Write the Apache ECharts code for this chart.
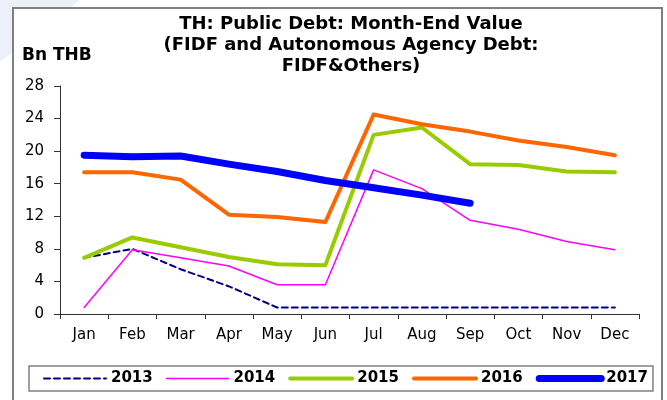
<!DOCTYPE html>
<html>
<head>
<meta charset="utf-8">
<script src="https://cdn.jsdelivr.net/npm/echarts@6/dist/echarts.min.js"></script>
<style>
  html, body { margin: 0; padding: 0; background: #fff; }
  #chart { width: 667px; height: 400px; }
</style>
</head>
<body>
<div id="chart"></div>
<script>
const months = ['Jan', 'Feb', 'Mar', 'Apr', 'May', 'Jun', 'Jul', 'Aug', 'Sep', 'Oct', 'Nov', 'Dec'];
const yTicks = [0, 4, 8, 12, 16, 20, 24, 28];

// Bn THB
const debt2013 = [6.9, 8.0, 5.5, 3.4, 0.8, 0.8, 0.8, 0.8, 0.8, 0.8, 0.8, 0.8];
const debt2014 = [0.8, 7.9, 6.9, 5.9, 3.6, 3.6, 17.7, 15.4, 11.5, 10.4, 8.9, 7.9];
const debt2015 = [6.9, 9.4, 8.2, 7.0, 6.1, 6.0, 22.0, 22.9, 18.4, 18.3, 17.5, 17.4];
const debt2016 = [17.4, 17.4, 16.5, 12.2, 11.9, 11.3, 24.5, 23.3, 22.4, 21.3, 20.5, 19.5];
const debt2017 = [19.5, 19.3, 19.4, 18.4, 17.5, 16.4, 15.5, 14.6, 13.6];

const FONT = 'DejaVu Sans';

const styles = [
  { name: '2013', data: debt2013, color: '#000080', width: 2, dash: [6, 4] },
  { name: '2014', data: debt2014, color: '#ff00ff', width: 1.5 },
  { name: '2015', data: debt2015, color: '#99cc00', width: 4 },
  { name: '2016', data: debt2016, color: '#ff6600', width: 4 },
  { name: '2017', data: debt2017, color: '#0000ff', width: 7 }
];

const chart = echarts.init(document.getElementById('chart'));
chart.setOption({
  animation: false,
  backgroundColor: '#fff',
  graphic: [
    {
      type: 'polygon',
      z: -10,
      shape: { points: [[0, 0], [80, 0], [0, 62]] },
      style: { fill: '#eef0f9' }
    },
    {
      type: 'rect',
      z: -5,
      shape: { x: 13, y: 8, width: 649, height: 410 },
      style: { fill: '#fff', stroke: '#808080', lineWidth: 2 }
    },
    {
      type: 'text',
      left: 22,
      top: 47,
      style: { text: 'Bn THB', font: 'bold 17px "DejaVu Sans"', fill: '#000' }
    }
  ],
  title: {
    text: 'TH: Public Debt: Month-End Value\n(FIDF and Autonomous Agency Debt:\nFIDF&Others)',
    left: 351,
    top: 14,
    padding: 0,
    textAlign: 'center',
    textStyle: { fontFamily: FONT, fontWeight: 'bold', fontSize: 18, lineHeight: 21, color: '#000' }
  },
  legend: {
    left: 29,
    top: 366,
    padding: [5, 5, 5, 14],
    itemWidth: 62,
    itemHeight: 12,
    itemGap: 13,
    borderColor: '#808080',
    borderWidth: 1.5,
    itemStyle: { opacity: 0 },
    textStyle: { fontFamily: FONT, fontWeight: 'bold', fontSize: 15, color: '#000' },
    data: styles.map((s) => ({
      name: s.name,
      lineStyle: { width: s.width, type: s.dash || 'solid', cap: 'round', color: s.color }
    }))
  },
  grid: { left: 60, right: 28, top: 86, bottom: 86 },
  xAxis: {
    type: 'category',
    data: months,
    boundaryGap: true,
    axisLine: { lineStyle: { color: '#333', width: 1 } },
    axisTick: { show: true, length: 5, lineStyle: { color: '#333' } },
    axisLabel: { margin: 14, fontFamily: FONT, fontSize: 15, color: '#000', interval: 0 }
  },
  yAxis: {
    type: 'value',
    min: yTicks[0],
    max: yTicks[yTicks.length - 1],
    interval: 4,
    axisLine: { show: true, lineStyle: { color: '#333', width: 1 } },
    axisTick: { show: true, length: 6, lineStyle: { color: '#333' } },
    splitLine: { show: false },
    axisLabel: { margin: 16, fontFamily: FONT, fontSize: 15, color: '#000' }
  },
  series: styles.map((s) => ({
    name: s.name,
    type: 'line',
    data: s.data,
    symbol: 'none',
    lineStyle: { color: s.color, width: s.width, type: s.dash || 'solid', cap: 'round', join: 'round' },
    itemStyle: { color: s.color }
  }))
});
</script>
</body>
</html>
